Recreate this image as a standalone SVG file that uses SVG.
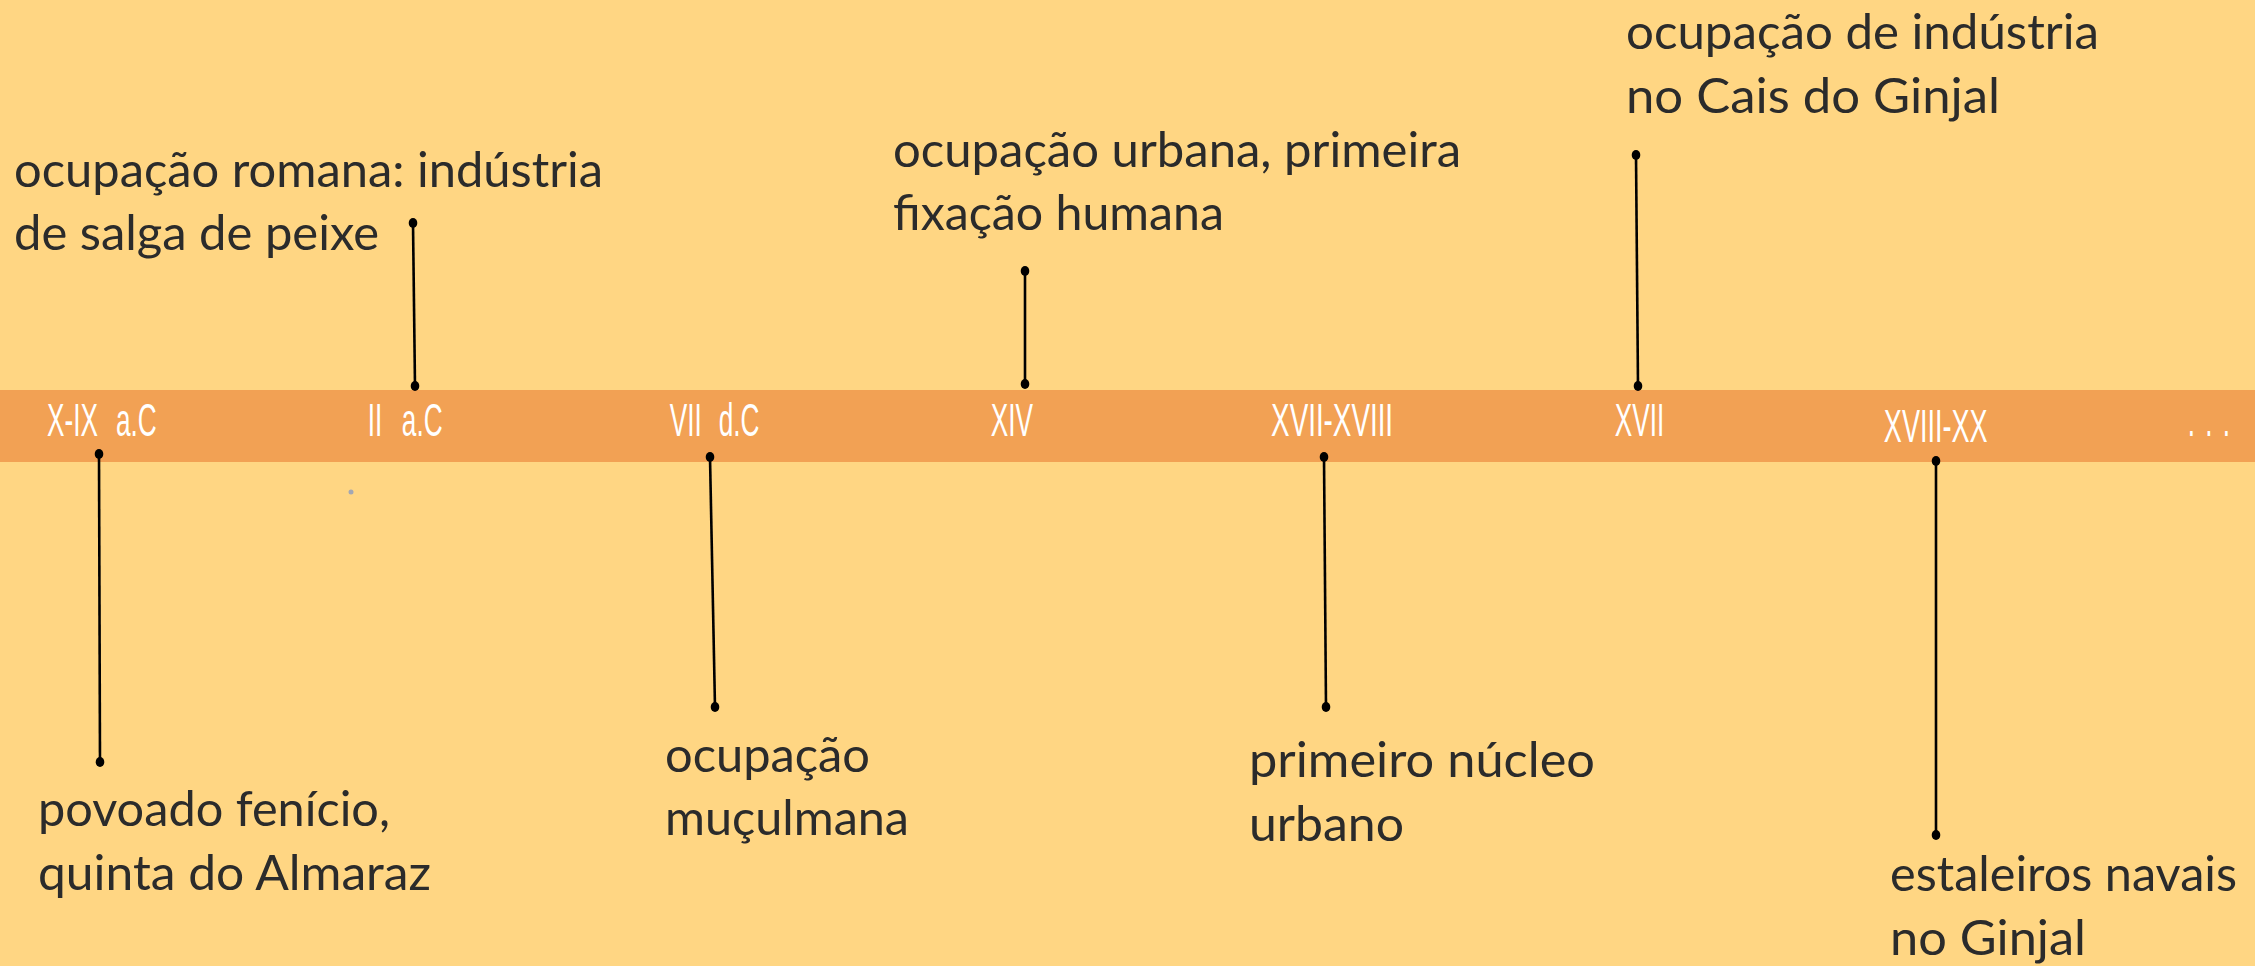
<svg xmlns="http://www.w3.org/2000/svg" width="2255" height="966" viewBox="0 0 2255 966">
<style>
.lbl{font-family:Lato,"Open Sans","Liberation Sans",sans-serif;font-size:49px;fill:#2b2b2b}
.era{font-family:"Liberation Sans",Arial,sans-serif;font-size:46px;fill:#ffffff}
.con line{stroke:#000;stroke-width:2.6}
.con ellipse{fill:#000}
</style>
<rect x="0" y="0" width="2255" height="966" fill="#FFD683"/>
<rect id="band" x="0" y="390" width="2255" height="72" fill="#F2A154"/>
<circle cx="351" cy="492" r="2.5" fill="#A3A7B4"/>
<g id="eras">
<text class="era" transform="scale(0.57,1)" y="436"><tspan x="82.5">X-IX </tspan><tspan x="203.5">a.C</tspan></text>
<text class="era" transform="scale(0.57,1)" y="436"><tspan x="645">II </tspan><tspan x="705">a.C</tspan></text>
<text class="era" transform="scale(0.57,1)" y="436"><tspan x="1175">VII </tspan><tspan x="1261">d.C</tspan></text>
<text class="era" transform="scale(0.57,1)" y="436" x="1738">XIV</text>
<text class="era" transform="scale(0.57,1)" y="436" x="2230" textLength="214" lengthAdjust="spacingAndGlyphs">XVII-XVIII</text>
<text class="era" transform="scale(0.57,1)" y="436" x="2833">XVII</text>
<text class="era" transform="scale(0.57,1)" y="442" x="3305" textLength="182" lengthAdjust="spacingAndGlyphs">XVIII-XX</text>
<text class="era" transform="scale(0.57,1)" y="436" x="3838" letter-spacing="18">...</text>
</g>
<g id="connectors" class="con">
<line x1="99" y1="454" x2="100" y2="762"/><ellipse cx="99" cy="454" rx="4.3" ry="5"/><ellipse cx="100" cy="762" rx="4.3" ry="5"/>
<line x1="413" y1="223" x2="415" y2="386"/><ellipse cx="413" cy="223" rx="4.3" ry="5"/><ellipse cx="415" cy="386" rx="4.3" ry="5"/>
<line x1="710" y1="457" x2="715" y2="707"/><ellipse cx="710" cy="457" rx="4.3" ry="5"/><ellipse cx="715" cy="707" rx="4.3" ry="5"/>
<line x1="1025" y1="271" x2="1025" y2="384"/><ellipse cx="1025" cy="271" rx="4.3" ry="5"/><ellipse cx="1025" cy="384" rx="4.3" ry="5"/>
<line x1="1324" y1="457" x2="1326" y2="707"/><ellipse cx="1324" cy="457" rx="4.3" ry="5"/><ellipse cx="1326" cy="707" rx="4.3" ry="5"/>
<line x1="1636" y1="155" x2="1638" y2="386"/><ellipse cx="1636" cy="155" rx="4.3" ry="5"/><ellipse cx="1638" cy="386" rx="4.3" ry="5"/>
<line x1="1936" y1="461" x2="1936" y2="835"/><ellipse cx="1936" cy="461" rx="4.3" ry="5"/><ellipse cx="1936" cy="835" rx="4.3" ry="5"/>
</g>
<g id="n-romana">
<text class="lbl" x="14" y="187" textLength="589" lengthAdjust="spacingAndGlyphs">ocupação romana: indústria</text>
<text class="lbl" x="14" y="250" textLength="365" lengthAdjust="spacingAndGlyphs">de salga de peixe</text>
</g>
<g id="n-fenicio">
<text class="lbl" x="38" y="826" textLength="352" lengthAdjust="spacingAndGlyphs">povoado fenício,</text>
<text class="lbl" x="38" y="890" textLength="393" lengthAdjust="spacingAndGlyphs">quinta do Almaraz</text>
</g>
<g id="n-muculmana">
<text class="lbl" x="665" y="772" textLength="205" lengthAdjust="spacingAndGlyphs">ocupação</text>
<text class="lbl" x="665" y="835" textLength="244" lengthAdjust="spacingAndGlyphs">muçulmana</text>
</g>
<g id="n-urbana">
<text class="lbl" x="893" y="167" textLength="568" lengthAdjust="spacingAndGlyphs">ocupação urbana, primeira</text>
<text class="lbl" x="893" y="230" textLength="331" lengthAdjust="spacingAndGlyphs">fixação humana</text>
</g>
<g id="n-nucleo">
<text class="lbl" x="1249" y="777" textLength="346" lengthAdjust="spacingAndGlyphs">primeiro núcleo</text>
<text class="lbl" x="1249" y="841" textLength="155" lengthAdjust="spacingAndGlyphs">urbano</text>
</g>
<g id="n-cais">
<text class="lbl" x="1626" y="49" textLength="473" lengthAdjust="spacingAndGlyphs">ocupação de indústria</text>
<text class="lbl" x="1626" y="113" textLength="374" lengthAdjust="spacingAndGlyphs">no Cais do Ginjal</text>
</g>
<g id="n-estaleiros">
<text class="lbl" x="1890" y="891" textLength="347" lengthAdjust="spacingAndGlyphs">estaleiros navais</text>
<text class="lbl" x="1890" y="955" textLength="196" lengthAdjust="spacingAndGlyphs">no Ginjal</text>
</g>
</svg>
